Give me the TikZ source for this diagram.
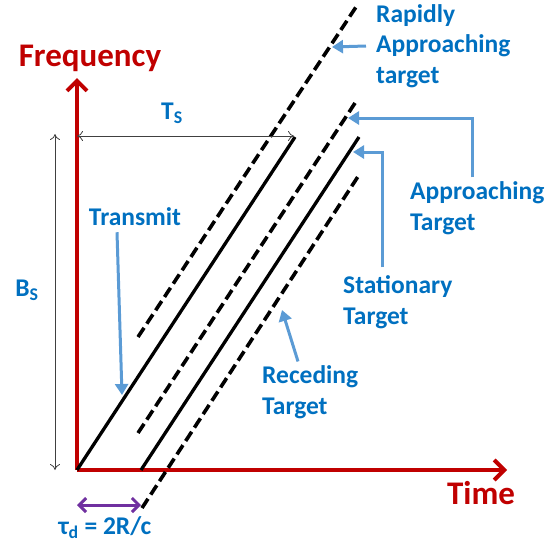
\documentclass[tikz,border=0pt]{standalone}
\usepackage{fontspec}
\setmainfont{Carlito}
\usetikzlibrary{arrows.meta,calc}
\definecolor{axisred}{HTML}{C00000}
\definecolor{labelblue}{HTML}{0070C0}
\definecolor{pointblue}{HTML}{5B9BD5}
\definecolor{delaypurple}{HTML}{7030A0}
\definecolor{dimgrey}{HTML}{404040}
\tikzset{
  axis/.style={draw=axisred,line width=4pt,-{Straight Barb[length=10pt,width=20pt]}},
  axislbl/.style={text=axisred,font=\fontsize{33}{38}\selectfont\bfseries,inner sep=0},
  lbl/.style={text=labelblue,font=\fontsize{25.5}{30.5}\selectfont\bfseries,align=left,inner sep=0},
  chirp/.style={draw=black,line width=3.3pt},
  echo/.style={draw=black,line width=3.6pt,dash pattern=on 11pt off 5pt},
  pointer/.style={draw=pointblue,line width=3pt,-{Triangle[length=11pt,width=13pt]}},
  dim/.style={draw=dimgrey,line width=0.8pt,{To[length=6pt,width=10pt]}-{To[length=6pt,width=10pt]}},
  delay/.style={draw=delaypurple,line width=3pt,{Straight Barb[length=7pt,width=14pt]}-{Straight Barb[length=7pt,width=14pt]}}}

\begin{document}
\begin{tikzpicture}[x=1pt,y=-1pt]
  \useasboundingbox (0,0) rectangle (559,546);
  % axes
  \coordinate (o) at (77,470);
  \coordinate (ftop) at (77,78);
  \coordinate (tend) at (507,470);
  \draw[axis] (o) -- (ftop);
  \draw[axis] (o) -- (tend);
  \node[axislbl] (freq) at (90,58) {Frequency};
  \node[axislbl] (time) at (481,493) {Time};
  % transmitted chirp and echoes
  \coordinate (tx0) at (77,470);   \coordinate (tx1) at (295,137);
  \coordinate (st0) at (141,470);  \coordinate (st1) at (359,137);
  \coordinate (ap0) at (138,433);  \coordinate (ap1) at (357,100);
  \coordinate (ra0) at (138,337);  \coordinate (ra1) at (358,4);
  \coordinate (rc0) at (142,508);  \coordinate (rc1) at (359,175);
  \draw[chirp] (tx0) -- (tx1);
  \draw[chirp] (st0) -- (st1);
  \draw[echo] (ap0) -- (ap1);
  \draw[echo] (ra0) -- (ra1);
  \draw[echo] (rc0) -- (rc1);
  % sweep time and bandwidth
  \coordinate (ts0) at (77,136);  \coordinate (ts1) at (294,136);
  \draw[dim] (ts0) -- (ts1);
  \node[lbl] (ts) at (172,113) {T\textsubscript{S}};
  \coordinate (bs0) at (55,134);  \coordinate (bs1) at (55,470);
  \draw[dim] (bs0) -- (bs1);
  \node[lbl] (bs) at (27,290) {B\textsubscript{S}};
  % round trip delay
  \coordinate (dl1) at (141,505);
  \draw[delay] (o |- dl1) -- (dl1);
  \node[lbl] (tau) at (105,528) {τ\textsubscript{d} = 2R/c};
  % labels with pointers
  \node[lbl,anchor=center] (transmit) at (135,217) {Transmit};
  \coordinate (trtip) at (122,395);
  \draw[pointer] ([xshift=-18pt,yshift=-6pt]transmit.south) -- (trtip);
  \node[lbl,anchor=west] (rapid) at (376,46) {Rapidly\\Approaching\\target};
  \coordinate (ratip) at (332,47);
  \draw[pointer] ([xshift=-10pt]rapid.west) -- (ratip);
  \node[lbl,anchor=west] (appr) at (410,208) {Approaching\\Target};
  \coordinate (aptip) at (348,118);
  \draw[pointer] ([xshift=62pt,yshift=4pt]appr.north west) |- (aptip);
  \node[lbl,anchor=west] (stat) at (343,302) {Stationary\\Target};
  \coordinate (sttip) at (353,152);
  \draw[pointer] ([xshift=39pt,yshift=8pt]stat.north west) |- (sttip);
  \node[lbl,anchor=west] (reced) at (262,392) {Receding\\Target};
  \coordinate (rctip) at (282,310);
  \draw[pointer] ([xshift=36pt,yshift=4pt]reced.north west) -- (rctip);
\end{tikzpicture}
\end{document}
